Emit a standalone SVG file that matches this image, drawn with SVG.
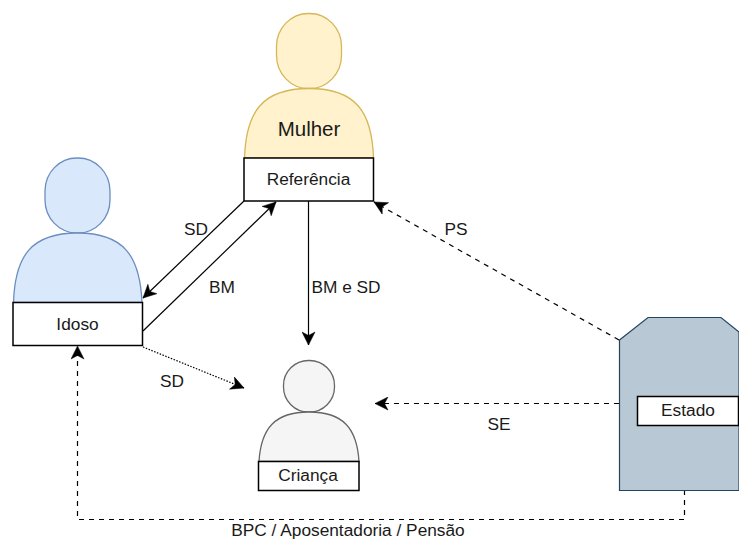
<svg xmlns="http://www.w3.org/2000/svg" width="739" height="540" viewBox="0 0 739 540">
<style>
text{font-family:"Liberation Sans",Arial,sans-serif;font-size:17.300px;fill:#1a1a1a;text-anchor:middle}
.box{fill:#fff;stroke:#000;stroke-width:1.5}
.c{fill:none;stroke:#000;stroke-width:1.2}
.d{stroke-dasharray:5 5}
.o{stroke-dasharray:1.5 1.5}
.y{fill:#fff2cc;stroke:#d6b656;stroke-width:1.3}
.b{fill:#dae8fc;stroke:#6c8ebf;stroke-width:1.3}
.g{fill:#f5f5f5;stroke:#666;stroke-width:1.3}
</style>
<defs>
<marker id="a" markerUnits="userSpaceOnUse" markerWidth="15" markerHeight="14" refX="14" refY="7" orient="auto"><path d="M1 0.500L14 7L1 13.500L4.500 7Z" fill="#000" stroke="#000" stroke-width="0.5"/></marker>
</defs>
<g id="connectors">
<path class="c" d="M244 201L143 298" marker-end="url(#a)"/>
<path class="c" d="M143 331L276 202" marker-end="url(#a)"/>
<path class="c" d="M308.500 201V345" marker-end="url(#a)"/>
<path class="c o" d="M143 347L244 388" marker-end="url(#a)"/>
<path class="c d" d="M619 340L374 202" marker-end="url(#a)"/>
<path class="c d" d="M619 403.500H375" marker-end="url(#a)"/>
<path class="c d" d="M684.500 490V519.500H77.500V346" marker-end="url(#a)"/>
</g>
<g id="mulher">
<rect class="y" x="276.500" y="13.500" width="65" height="75" rx="32" ry="33"/>
<path class="y" d="M244.500 158C246 112 262 88.500 309 88.500C356 88.500 372 112 373.500 158Z"/>
<rect class="box" x="244" y="158" width="129.500" height="43"/>
<text x="309" y="136" style="font-size:20.500px">Mulher</text>
<text x="308.500" y="185">Referência</text>
</g>
<g id="idoso">
<rect class="b" x="45" y="158" width="65" height="75" rx="32" ry="33"/>
<path class="b" d="M13.500 302.500C15 256 31 233 77.500 233C124 233 140 256 142 302.500Z"/>
<rect class="box" x="13" y="302.500" width="129.500" height="43"/>
<text x="77.500" y="329.500">Idoso</text>
</g>
<g id="crianca">
<rect class="g" x="283.500" y="360.500" width="51" height="51.500" rx="25" ry="25"/>
<path class="g" d="M259 461.500C261 428 275 412 309 412C343 412 357 428 359 461.500Z"/>
<rect class="box" x="258.500" y="461.500" width="100.500" height="29"/>
<text x="308" y="480.500">Criança</text>
</g>
<g id="estado">
<path d="M619.500 340L648 317.500H721L739 332V490.500H619.500Z" fill="#b9c8d5" stroke="#23445d" stroke-width="1.2"/>
<rect class="box" x="637.500" y="396.500" width="101" height="29"/>
<text x="688" y="415.500">Estado</text>
</g>
<g id="labels">
<text x="196" y="234.500">SD</text>
<text x="222" y="292.500">BM</text>
<text x="346" y="292.500">BM e SD</text>
<text x="172" y="386.500">SD</text>
<text x="456" y="234.500">PS</text>
<text x="499" y="430">SE</text>
<text x="348" y="536">BPC / Aposentadoria / Pensão</text>
</g>
</svg>
